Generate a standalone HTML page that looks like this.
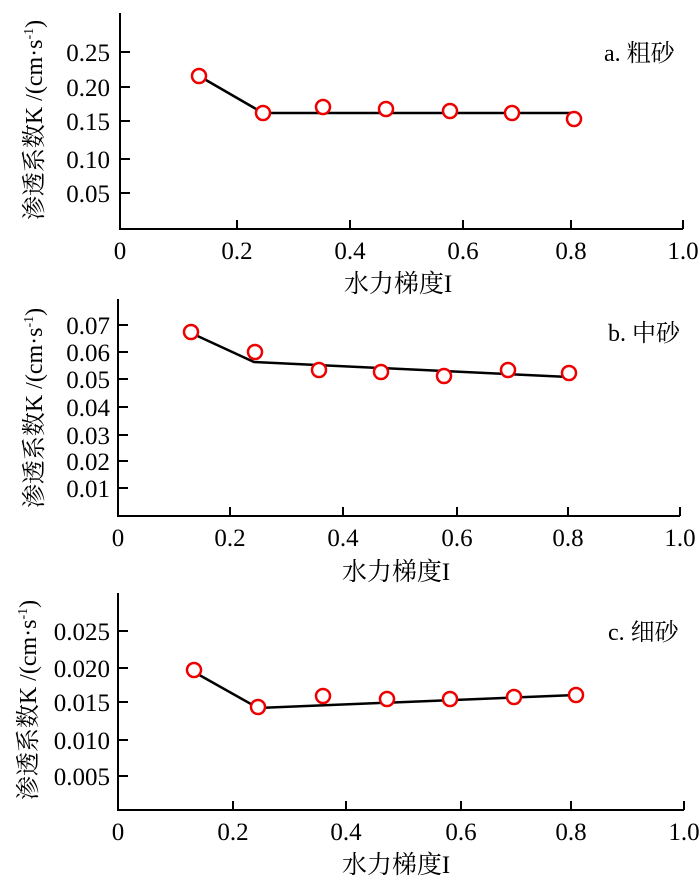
<!DOCTYPE html>
<html><head><meta charset="utf-8"><style>
html,body{margin:0;padding:0;background:#fff}
svg{display:block}
text{font-family:"Liberation Serif","Noto Serif CJK SC",serif;fill:#000}
</style></head><body>
<svg width="700" height="877" viewBox="0 0 700 877" xmlns="http://www.w3.org/2000/svg">
<g stroke="#000" stroke-width="2" fill="none">
<path d="M120,13 V229 H683"/>
<path d="M120,52h10M120,87h10M120,121h10M120,159h10M120,193h10"/>
<path d="M237,229v-9M350,229v-9M463,229v-9M571,229v-9M683,229v-9"/>
<polyline points="199,76 263,113 574,113" stroke-width="2.5"/>
<path d="M118,299 V516 H680"/>
<path d="M118,325h10M118,352h10M118,379h10M118,407h10M118,435h10M118,461h10M118,488h10"/>
<path d="M230,516v-9M343,516v-9M457,516v-9M568,516v-9M680,516v-9"/>
<polyline points="191,333 254,362 569,377" stroke-width="2.5"/>
<path d="M118,593 V810 H684"/>
<path d="M118,631h10M118,668h10M118,702h10M118,740h10M118,776h10"/>
<path d="M233,810v-9M346,810v-9M461,810v-9M571,810v-9M684,810v-9"/>
<polyline points="194,672 258,708 576,695" stroke-width="2.5"/>
</g>
<g stroke="#e00" stroke-width="2.5" fill="#fff">
<circle cx="199" cy="76" r="7"/><circle cx="263" cy="113" r="7"/><circle cx="323" cy="107" r="7"/><circle cx="386" cy="109" r="7"/><circle cx="450" cy="111" r="7"/><circle cx="512" cy="113" r="7"/><circle cx="574" cy="119" r="7"/>
<circle cx="191" cy="332" r="7"/><circle cx="255" cy="352" r="7"/><circle cx="319" cy="370" r="7"/><circle cx="381" cy="372" r="7"/><circle cx="444" cy="376" r="7"/><circle cx="508" cy="370" r="7"/><circle cx="569" cy="373" r="7"/>
<circle cx="194" cy="670" r="7"/><circle cx="258" cy="707" r="7"/><circle cx="323" cy="696" r="7"/><circle cx="387" cy="699" r="7"/><circle cx="450" cy="699" r="7"/><circle cx="514" cy="697" r="7"/><circle cx="576" cy="695" r="7"/>
</g>
<g font-size="25" text-anchor="end">
<text x="110" y="61">0.25</text><text x="110" y="96">0.20</text><text x="110" y="130">0.15</text><text x="110" y="168">0.10</text><text x="110" y="202">0.05</text>
<text x="110" y="334">0.07</text><text x="110" y="361">0.06</text><text x="110" y="388">0.05</text><text x="110" y="416">0.04</text><text x="110" y="444">0.03</text><text x="110" y="470">0.02</text><text x="110" y="497">0.01</text>
<text x="110" y="640">0.025</text><text x="110" y="677">0.020</text><text x="110" y="711">0.015</text><text x="110" y="749">0.010</text><text x="110" y="785">0.005</text>
</g>
<g font-size="25" text-anchor="middle">
<text x="120" y="259">0</text><text x="237" y="259">0.2</text><text x="350" y="259">0.4</text><text x="463" y="259">0.6</text><text x="571" y="259">0.8</text><text x="683" y="259">1.0</text>
<text x="118" y="546">0</text><text x="230" y="546">0.2</text><text x="343" y="546">0.4</text><text x="457" y="546">0.6</text><text x="568" y="546">0.8</text><text x="680" y="546">1.0</text>
<text x="118" y="840">0</text><text x="233" y="840">0.2</text><text x="346" y="840">0.4</text><text x="461" y="840">0.6</text><text x="571" y="840">0.8</text><text x="684" y="840">1.0</text>
</g>
<g font-size="25" text-anchor="middle">
<text x="398" y="292">水力梯度I</text>
<text x="396" y="580">水力梯度I</text>
<text x="396" y="873">水力梯度I</text>
</g>
<g font-size="24">
<text x="604" y="61">a. 粗砂</text>
<text x="608" y="341">b. 中砂</text>
<text x="608" y="640">c. 细砂</text>
</g>
<g font-size="24" text-anchor="middle">
<text transform="translate(42,120) rotate(-90)">渗透系数K /(cm·s<tspan font-size="14" dy="-9">-1</tspan><tspan dy="9">)</tspan></text>
<text transform="translate(42,408) rotate(-90)">渗透系数K /(cm·s<tspan font-size="14" dy="-9">-1</tspan><tspan dy="9">)</tspan></text>
<text transform="translate(36,700) rotate(-90)">渗透系数K /(cm·s<tspan font-size="14" dy="-9">-1</tspan><tspan dy="9">)</tspan></text>
</g>
</svg>
</body></html>
